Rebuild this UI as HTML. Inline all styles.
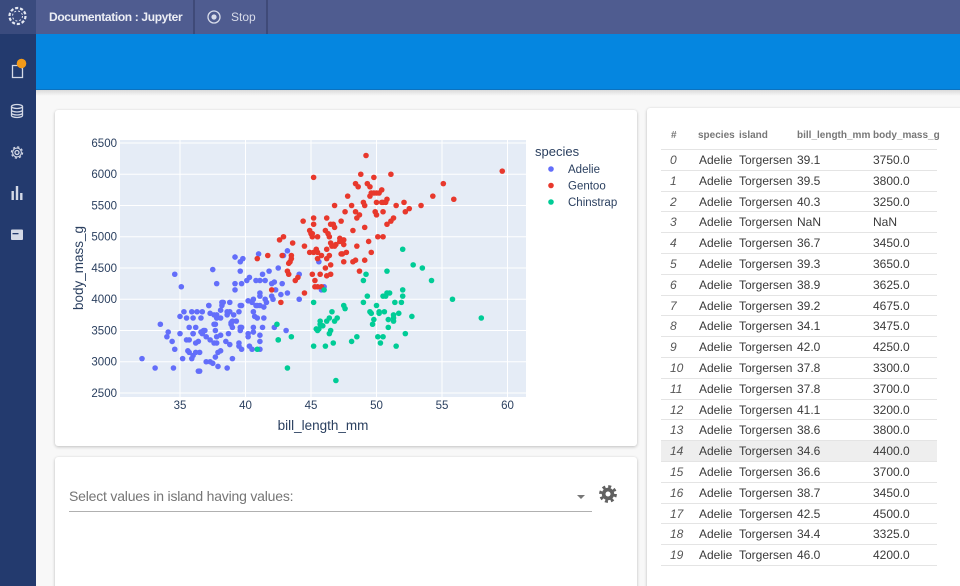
<!DOCTYPE html>
<html><head><meta charset="utf-8">
<style>
*{margin:0;padding:0;box-sizing:border-box}
html,body{width:960px;height:586px;overflow:hidden}
body{background:#f8f8f8;font-family:"Liberation Sans",Arial,sans-serif;position:relative}
.a{position:absolute}
.card{position:absolute;background:#fff;border-radius:3px;box-shadow:0 1px 3px rgba(0,0,0,.22),0 0 1px rgba(0,0,0,.08)}
.row{position:absolute;left:661px;width:276px;height:20.8px;border-bottom:1px solid #e4e4e4;font-size:12px;line-height:20px;color:#3a3a3a}
.row span{position:absolute;top:0;white-space:nowrap}
.row .i{left:9px;font-style:italic;color:#555}
.row .s{left:38px}
.row .l{left:78px}
.row .b{left:136px}
.row .m{left:212px}
.hd{position:absolute;left:661px;top:126px;width:276px;height:24px;border-bottom:1px solid #e4e4e4;font-size:10px;font-weight:bold;color:#777;line-height:20px}
.hd span{position:absolute;top:0;white-space:nowrap}
</style></head>
<body>
<!-- top bar -->
<div class="a" style="left:0;top:0;width:960px;height:34px;background:#4f5c90"></div>
<div class="a" style="left:0;top:0;width:36px;height:34px;background:#3a4b7e"></div>
<div class="a" style="left:0;top:34px;width:36px;height:552px;background:#233a6e"></div>
<div class="a" style="left:193px;top:0;width:2px;height:34px;background:#3f4a78"></div>
<div class="a" style="left:266px;top:0;width:2px;height:34px;background:#3f4a78"></div>
<div class="a" style="left:49px;top:10px;font-size:12px;font-weight:bold;color:#eceef5;letter-spacing:-0.35px;white-space:nowrap">Documentation : Jupyter</div>
<div class="a" style="left:231px;top:10px;font-size:12px;color:#d8dcea;white-space:nowrap">Stop</div>
<!-- blue band -->
<div class="a" style="left:36px;top:34px;width:924px;height:56px;background:#0586e0;border-bottom:1px solid #0b72bf"></div>
<div class="a" style="left:36px;top:90px;width:924px;height:6px;background:linear-gradient(rgba(0,0,0,.12),rgba(0,0,0,0))"></div>

<!-- cards -->
<div class="card" style="left:55px;top:110px;width:582px;height:336px"></div>
<div class="card" style="left:55px;top:457px;width:582px;height:150px"></div>
<div class="card" style="left:647px;top:108px;width:330px;height:500px"></div>

<!-- select -->
<div class="a" style="left:69px;top:488px;font-size:14px;color:#757575;white-space:nowrap;letter-spacing:-0.2px">Select values in island having values:</div>
<div class="a" style="left:69px;top:511px;width:523px;height:1px;background:#b0b0b0"></div>

<!-- table -->
<div class="hd"><span style="left:10px">#</span><span style="left:37px">species</span><span style="left:78px">island</span><span style="left:136px">bill_length_mm</span><span style="left:212px">body_mass_g</span></div>
<div class="row" style="top:150px"><span class="i">0</span><span class="s">Adelie</span><span class="l">Torgersen</span><span class="b">39.1</span><span class="m">3750.0</span></div>
<div class="row" style="top:170.8px"><span class="i">1</span><span class="s">Adelie</span><span class="l">Torgersen</span><span class="b">39.5</span><span class="m">3800.0</span></div>
<div class="row" style="top:191.6px"><span class="i">2</span><span class="s">Adelie</span><span class="l">Torgersen</span><span class="b">40.3</span><span class="m">3250.0</span></div>
<div class="row" style="top:212.4px"><span class="i">3</span><span class="s">Adelie</span><span class="l">Torgersen</span><span class="b">NaN</span><span class="m">NaN</span></div>
<div class="row" style="top:233.2px"><span class="i">4</span><span class="s">Adelie</span><span class="l">Torgersen</span><span class="b">36.7</span><span class="m">3450.0</span></div>
<div class="row" style="top:254px"><span class="i">5</span><span class="s">Adelie</span><span class="l">Torgersen</span><span class="b">39.3</span><span class="m">3650.0</span></div>
<div class="row" style="top:274.8px"><span class="i">6</span><span class="s">Adelie</span><span class="l">Torgersen</span><span class="b">38.9</span><span class="m">3625.0</span></div>
<div class="row" style="top:295.6px"><span class="i">7</span><span class="s">Adelie</span><span class="l">Torgersen</span><span class="b">39.2</span><span class="m">4675.0</span></div>
<div class="row" style="top:316.4px"><span class="i">8</span><span class="s">Adelie</span><span class="l">Torgersen</span><span class="b">34.1</span><span class="m">3475.0</span></div>
<div class="row" style="top:337.2px"><span class="i">9</span><span class="s">Adelie</span><span class="l">Torgersen</span><span class="b">42.0</span><span class="m">4250.0</span></div>
<div class="row" style="top:358px"><span class="i">10</span><span class="s">Adelie</span><span class="l">Torgersen</span><span class="b">37.8</span><span class="m">3300.0</span></div>
<div class="row" style="top:378.8px"><span class="i">11</span><span class="s">Adelie</span><span class="l">Torgersen</span><span class="b">37.8</span><span class="m">3700.0</span></div>
<div class="row" style="top:399.6px"><span class="i">12</span><span class="s">Adelie</span><span class="l">Torgersen</span><span class="b">41.1</span><span class="m">3200.0</span></div>
<div class="row" style="top:420.4px"><span class="i">13</span><span class="s">Adelie</span><span class="l">Torgersen</span><span class="b">38.6</span><span class="m">3800.0</span></div>
<div class="row" style="top:441.2px;background:#eeeeee"><span class="i">14</span><span class="s">Adelie</span><span class="l">Torgersen</span><span class="b">34.6</span><span class="m">4400.0</span></div>
<div class="row" style="top:462px"><span class="i">15</span><span class="s">Adelie</span><span class="l">Torgersen</span><span class="b">36.6</span><span class="m">3700.0</span></div>
<div class="row" style="top:482.8px"><span class="i">16</span><span class="s">Adelie</span><span class="l">Torgersen</span><span class="b">38.7</span><span class="m">3450.0</span></div>
<div class="row" style="top:503.6px"><span class="i">17</span><span class="s">Adelie</span><span class="l">Torgersen</span><span class="b">42.5</span><span class="m">4500.0</span></div>
<div class="row" style="top:524.4px"><span class="i">18</span><span class="s">Adelie</span><span class="l">Torgersen</span><span class="b">34.4</span><span class="m">3325.0</span></div>
<div class="row" style="top:545.2px"><span class="i">19</span><span class="s">Adelie</span><span class="l">Torgersen</span><span class="b">46.0</span><span class="m">4200.0</span></div>

<svg class="a" style="left:0;top:0" width="960" height="586" viewBox="0 0 960 586" xmlns="http://www.w3.org/2000/svg" font-family="Liberation Sans, Arial, sans-serif">
<!-- logo -->
<circle cx="17.5" cy="16" r="8" fill="none" stroke="#e4e8f2" stroke-width="2.2" stroke-dasharray="3.2 1.8"/>
<circle cx="17.5" cy="16" r="5" fill="none" stroke="#e4e8f2" stroke-width="1" stroke-dasharray="2 2"/>
<!-- stop icon -->
<circle cx="214" cy="17" r="6" fill="none" stroke="#d8dcea" stroke-width="1.3"/>
<circle cx="214" cy="17" r="2.6" fill="#d8dcea"/>
<!-- sidebar icons -->
<path d="M12.5 65.5 H19.5 L22.5 68.5 V77.5 H12.5 Z" fill="none" stroke="#d4d9e6" stroke-width="1.3"/>
<circle cx="21.5" cy="63.5" r="4.8" fill="#f29a1a"/>
<g fill="none" stroke="#d4d9e6" stroke-width="1.3">
<ellipse cx="17" cy="106.5" rx="5.5" ry="2"/>
<path d="M11.5 106.5 V115.5 A5.5 2 0 0 0 22.5 115.5 V106.5 M11.5 110 A5.5 2 0 0 0 22.5 110 M11.5 113 A5.5 2 0 0 0 22.5 113"/>
<circle cx="17" cy="152.5" r="2"/>
<circle cx="17" cy="152.5" r="5.6" stroke-width="1.2" stroke-dasharray="2.2 2.2"/>
<circle cx="17" cy="152.5" r="4.4" stroke-width="1.1"/>
</g>
<g fill="#d4d9e6">
<rect x="11.5" y="191" width="2.4" height="9"/>
<rect x="15.8" y="186" width="2.4" height="14"/>
<rect x="20.1" y="193" width="2.4" height="7"/>
<rect x="11" y="229.5" width="12" height="10.5" rx="1"/>
</g>
<rect x="12.5" y="233" width="6" height="1.3" fill="#233a6e"/>
<!-- gear in select card -->
<circle cx="608" cy="494" r="7.3" fill="none" stroke="#616161" stroke-width="3.2" stroke-dasharray="2.9 2.83"/>
<circle cx="608" cy="494" r="6.2" fill="#616161"/>
<circle cx="608" cy="494" r="2.5" fill="#fff"/>
<path d="M577 495 H585 L581 499 Z" fill="#777"/>

<!-- plot -->
<rect x="120" y="140" width="406" height="257" fill="#e5ecf6"/>
<g stroke="#fff" stroke-width="1">
<line x1="180" y1="140" x2="180" y2="397"/><line x1="245.5" y1="140" x2="245.5" y2="397"/><line x1="311" y1="140" x2="311" y2="397"/><line x1="376.5" y1="140" x2="376.5" y2="397"/><line x1="442" y1="140" x2="442" y2="397"/><line x1="507.5" y1="140" x2="507.5" y2="397"/>
<line x1="120" y1="143" x2="526" y2="143"/><line x1="120" y1="174.25" x2="526" y2="174.25"/><line x1="120" y1="205.5" x2="526" y2="205.5"/><line x1="120" y1="236.75" x2="526" y2="236.75"/><line x1="120" y1="268" x2="526" y2="268"/><line x1="120" y1="299.25" x2="526" y2="299.25"/><line x1="120" y1="330.5" x2="526" y2="330.5"/><line x1="120" y1="361.75" x2="526" y2="361.75"/><line x1="120" y1="393" x2="526" y2="393"/>
</g>
<g font-size="11.5" fill="#2a3f5f" text-anchor="end">
<text x="117" y="147">6500</text><text x="117" y="178.2">6000</text><text x="117" y="209.5">5500</text><text x="117" y="240.7">5000</text><text x="117" y="272">4500</text><text x="117" y="303.2">4000</text><text x="117" y="334.5">3500</text><text x="117" y="365.7">3000</text><text x="117" y="397">2500</text>
</g>
<g font-size="11.5" fill="#2a3f5f" text-anchor="middle">
<text x="180" y="409">35</text><text x="245.5" y="409">40</text><text x="311" y="409">45</text><text x="376.5" y="409">50</text><text x="442" y="409">55</text><text x="507.5" y="409">60</text>
<text x="323" y="430" font-size="13.5">bill_length_mm</text>
<text transform="translate(83 268) rotate(-90)" font-size="13.5">body_mass_g</text>
</g>
<!-- legend -->
<text x="535" y="156" font-size="13" fill="#2a3f5f">species</text>
<circle cx="551" cy="169" r="2.8" fill="#636efa"/><text x="568" y="173" font-size="11.5" fill="#2a3f5f">Adelie</text>
<circle cx="551" cy="185.5" r="2.8" fill="#e8382c"/><text x="568" y="189.5" font-size="11.5" fill="#2a3f5f">Gentoo</text>
<circle cx="551" cy="202" r="2.8" fill="#00cc96"/><text x="568" y="206" font-size="11.5" fill="#2a3f5f">Chinstrap</text>

<g transform="matrix(13.1 0 0 -0.0625 -278.5 549.25)">
<g fill="#636efa">
<ellipse cx="39.1" cy="3750" rx=".214" ry="44.8"/><ellipse cx="39.5" cy="3800" rx=".214" ry="44.8"/><ellipse cx="40.3" cy="3250" rx=".214" ry="44.8"/><ellipse cx="36.7" cy="3450" rx=".214" ry="44.8"/><ellipse cx="39.3" cy="3650" rx=".214" ry="44.8"/><ellipse cx="38.9" cy="3625" rx=".214" ry="44.8"/><ellipse cx="39.2" cy="4675" rx=".214" ry="44.8"/><ellipse cx="34.1" cy="3475" rx=".214" ry="44.8"/><ellipse cx="42.0" cy="4250" rx=".214" ry="44.8"/><ellipse cx="37.8" cy="3300" rx=".214" ry="44.8"/>
<ellipse cx="37.8" cy="3700" rx=".214" ry="44.8"/><ellipse cx="41.1" cy="3200" rx=".214" ry="44.8"/><ellipse cx="38.6" cy="3800" rx=".214" ry="44.8"/><ellipse cx="34.6" cy="4400" rx=".214" ry="44.8"/><ellipse cx="36.6" cy="3700" rx=".214" ry="44.8"/><ellipse cx="38.7" cy="3450" rx=".214" ry="44.8"/><ellipse cx="42.5" cy="4500" rx=".214" ry="44.8"/><ellipse cx="34.4" cy="3325" rx=".214" ry="44.8"/><ellipse cx="46.0" cy="4200" rx=".214" ry="44.8"/><ellipse cx="37.8" cy="3400" rx=".214" ry="44.8"/>
<ellipse cx="37.7" cy="3600" rx=".214" ry="44.8"/><ellipse cx="35.9" cy="3800" rx=".214" ry="44.8"/><ellipse cx="38.2" cy="3950" rx=".214" ry="44.8"/><ellipse cx="38.8" cy="3800" rx=".214" ry="44.8"/><ellipse cx="35.3" cy="3800" rx=".214" ry="44.8"/><ellipse cx="40.6" cy="3550" rx=".214" ry="44.8"/><ellipse cx="40.5" cy="3200" rx=".214" ry="44.8"/><ellipse cx="37.9" cy="3150" rx=".214" ry="44.8"/><ellipse cx="40.5" cy="3950" rx=".214" ry="44.8"/><ellipse cx="39.5" cy="3250" rx=".214" ry="44.8"/>
<ellipse cx="37.2" cy="3900" rx=".214" ry="44.8"/><ellipse cx="39.5" cy="3300" rx=".214" ry="44.8"/><ellipse cx="40.9" cy="3900" rx=".214" ry="44.8"/><ellipse cx="36.4" cy="3325" rx=".214" ry="44.8"/><ellipse cx="39.2" cy="4150" rx=".214" ry="44.8"/><ellipse cx="38.8" cy="3950" rx=".214" ry="44.8"/><ellipse cx="42.2" cy="3550" rx=".214" ry="44.8"/><ellipse cx="37.6" cy="3300" rx=".214" ry="44.8"/><ellipse cx="39.8" cy="4650" rx=".214" ry="44.8"/><ellipse cx="36.5" cy="3150" rx=".214" ry="44.8"/>
<ellipse cx="40.8" cy="3900" rx=".214" ry="44.8"/><ellipse cx="36.0" cy="3100" rx=".214" ry="44.8"/><ellipse cx="44.1" cy="4400" rx=".214" ry="44.8"/><ellipse cx="37.0" cy="3000" rx=".214" ry="44.8"/><ellipse cx="39.6" cy="4600" rx=".214" ry="44.8"/><ellipse cx="41.1" cy="3425" rx=".214" ry="44.8"/><ellipse cx="37.5" cy="2975" rx=".214" ry="44.8"/><ellipse cx="36.0" cy="3450" rx=".214" ry="44.8"/><ellipse cx="42.3" cy="4150" rx=".214" ry="44.8"/><ellipse cx="39.6" cy="3500" rx=".214" ry="44.8"/>
<ellipse cx="40.1" cy="4300" rx=".214" ry="44.8"/><ellipse cx="35.0" cy="3450" rx=".214" ry="44.8"/><ellipse cx="42.0" cy="4050" rx=".214" ry="44.8"/><ellipse cx="34.5" cy="2900" rx=".214" ry="44.8"/><ellipse cx="41.4" cy="3700" rx=".214" ry="44.8"/><ellipse cx="39.0" cy="3550" rx=".214" ry="44.8"/><ellipse cx="40.6" cy="3800" rx=".214" ry="44.8"/><ellipse cx="36.5" cy="2850" rx=".214" ry="44.8"/><ellipse cx="37.6" cy="3750" rx=".214" ry="44.8"/><ellipse cx="35.7" cy="3150" rx=".214" ry="44.8"/>
<ellipse cx="41.3" cy="4400" rx=".214" ry="44.8"/><ellipse cx="37.6" cy="3600" rx=".214" ry="44.8"/><ellipse cx="41.1" cy="4050" rx=".214" ry="44.8"/><ellipse cx="36.4" cy="2850" rx=".214" ry="44.8"/><ellipse cx="41.6" cy="3950" rx=".214" ry="44.8"/><ellipse cx="35.5" cy="3350" rx=".214" ry="44.8"/><ellipse cx="41.1" cy="4100" rx=".214" ry="44.8"/><ellipse cx="35.9" cy="3050" rx=".214" ry="44.8"/><ellipse cx="41.8" cy="4450" rx=".214" ry="44.8"/><ellipse cx="33.5" cy="3600" rx=".214" ry="44.8"/>
<ellipse cx="39.7" cy="3900" rx=".214" ry="44.8"/><ellipse cx="39.6" cy="3550" rx=".214" ry="44.8"/><ellipse cx="45.8" cy="4150" rx=".214" ry="44.8"/><ellipse cx="35.5" cy="3700" rx=".214" ry="44.8"/><ellipse cx="42.8" cy="4250" rx=".214" ry="44.8"/><ellipse cx="40.9" cy="3700" rx=".214" ry="44.8"/><ellipse cx="37.2" cy="3900" rx=".214" ry="44.8"/><ellipse cx="36.2" cy="3550" rx=".214" ry="44.8"/><ellipse cx="42.1" cy="4000" rx=".214" ry="44.8"/><ellipse cx="34.6" cy="3200" rx=".214" ry="44.8"/>
<ellipse cx="42.9" cy="4700" rx=".214" ry="44.8"/><ellipse cx="36.7" cy="3800" rx=".214" ry="44.8"/><ellipse cx="35.1" cy="4200" rx=".214" ry="44.8"/><ellipse cx="37.3" cy="3350" rx=".214" ry="44.8"/><ellipse cx="41.3" cy="3550" rx=".214" ry="44.8"/><ellipse cx="36.3" cy="3800" rx=".214" ry="44.8"/><ellipse cx="36.9" cy="3500" rx=".214" ry="44.8"/><ellipse cx="38.3" cy="3950" rx=".214" ry="44.8"/><ellipse cx="38.9" cy="3600" rx=".214" ry="44.8"/><ellipse cx="35.7" cy="3550" rx=".214" ry="44.8"/>
<ellipse cx="41.1" cy="4300" rx=".214" ry="44.8"/><ellipse cx="34.0" cy="3400" rx=".214" ry="44.8"/><ellipse cx="39.6" cy="4450" rx=".214" ry="44.8"/><ellipse cx="36.2" cy="3300" rx=".214" ry="44.8"/><ellipse cx="40.8" cy="4300" rx=".214" ry="44.8"/><ellipse cx="38.1" cy="3700" rx=".214" ry="44.8"/><ellipse cx="40.3" cy="4350" rx=".214" ry="44.8"/><ellipse cx="33.1" cy="2900" rx=".214" ry="44.8"/><ellipse cx="43.2" cy="4100" rx=".214" ry="44.8"/><ellipse cx="35.0" cy="3725" rx=".214" ry="44.8"/>
<ellipse cx="41.0" cy="4725" rx=".214" ry="44.8"/><ellipse cx="37.7" cy="3075" rx=".214" ry="44.8"/><ellipse cx="37.8" cy="4250" rx=".214" ry="44.8"/><ellipse cx="37.9" cy="2925" rx=".214" ry="44.8"/><ellipse cx="39.7" cy="3550" rx=".214" ry="44.8"/><ellipse cx="38.6" cy="3750" rx=".214" ry="44.8"/><ellipse cx="38.2" cy="3900" rx=".214" ry="44.8"/><ellipse cx="38.1" cy="3175" rx=".214" ry="44.8"/><ellipse cx="43.2" cy="4775" rx=".214" ry="44.8"/><ellipse cx="38.1" cy="3825" rx=".214" ry="44.8"/>
<ellipse cx="45.6" cy="4600" rx=".214" ry="44.8"/><ellipse cx="39.7" cy="3200" rx=".214" ry="44.8"/><ellipse cx="42.2" cy="4275" rx=".214" ry="44.8"/><ellipse cx="39.6" cy="3900" rx=".214" ry="44.8"/><ellipse cx="42.7" cy="4075" rx=".214" ry="44.8"/><ellipse cx="38.6" cy="2900" rx=".214" ry="44.8"/><ellipse cx="37.3" cy="3775" rx=".214" ry="44.8"/><ellipse cx="35.7" cy="3350" rx=".214" ry="44.8"/><ellipse cx="41.1" cy="3325" rx=".214" ry="44.8"/><ellipse cx="36.2" cy="3150" rx=".214" ry="44.8"/>
<ellipse cx="37.7" cy="3500" rx=".214" ry="44.8"/><ellipse cx="40.2" cy="3450" rx=".214" ry="44.8"/><ellipse cx="41.4" cy="3875" rx=".214" ry="44.8"/><ellipse cx="35.2" cy="3050" rx=".214" ry="44.8"/><ellipse cx="40.6" cy="4000" rx=".214" ry="44.8"/><ellipse cx="38.8" cy="3275" rx=".214" ry="44.8"/><ellipse cx="41.5" cy="4300" rx=".214" ry="44.8"/><ellipse cx="39.0" cy="3050" rx=".214" ry="44.8"/><ellipse cx="44.1" cy="4000" rx=".214" ry="44.8"/><ellipse cx="38.5" cy="3325" rx=".214" ry="44.8"/>
<ellipse cx="43.1" cy="3500" rx=".214" ry="44.8"/><ellipse cx="36.8" cy="3500" rx=".214" ry="44.8"/><ellipse cx="37.5" cy="4475" rx=".214" ry="44.8"/><ellipse cx="38.1" cy="3425" rx=".214" ry="44.8"/><ellipse cx="41.1" cy="3900" rx=".214" ry="44.8"/><ellipse cx="35.6" cy="3175" rx=".214" ry="44.8"/><ellipse cx="40.2" cy="3975" rx=".214" ry="44.8"/><ellipse cx="37.0" cy="3400" rx=".214" ry="44.8"/><ellipse cx="39.7" cy="4250" rx=".214" ry="44.8"/><ellipse cx="40.2" cy="3400" rx=".214" ry="44.8"/>
<ellipse cx="40.6" cy="3475" rx=".214" ry="44.8"/><ellipse cx="32.1" cy="3050" rx=".214" ry="44.8"/><ellipse cx="40.7" cy="3725" rx=".214" ry="44.8"/><ellipse cx="37.3" cy="3000" rx=".214" ry="44.8"/><ellipse cx="39.0" cy="3650" rx=".214" ry="44.8"/><ellipse cx="39.2" cy="4250" rx=".214" ry="44.8"/><ellipse cx="36.6" cy="3475" rx=".214" ry="44.8"/><ellipse cx="36.0" cy="3450" rx=".214" ry="44.8"/><ellipse cx="37.8" cy="3750" rx=".214" ry="44.8"/><ellipse cx="36.0" cy="3700" rx=".214" ry="44.8"/>
<ellipse cx="41.5" cy="4000" rx=".214" ry="44.8"/>
</g>
<g fill="#e8382c">
<ellipse cx="46.1" cy="4500" rx=".214" ry="44.8"/><ellipse cx="50.0" cy="5700" rx=".214" ry="44.8"/><ellipse cx="48.7" cy="4450" rx=".214" ry="44.8"/><ellipse cx="47.6" cy="5400" rx=".214" ry="44.8"/><ellipse cx="46.5" cy="4550" rx=".214" ry="44.8"/><ellipse cx="45.4" cy="4800" rx=".214" ry="44.8"/><ellipse cx="46.7" cy="5200" rx=".214" ry="44.8"/><ellipse cx="43.3" cy="4400" rx=".214" ry="44.8"/><ellipse cx="46.8" cy="5150" rx=".214" ry="44.8"/><ellipse cx="40.9" cy="4650" rx=".214" ry="44.8"/>
<ellipse cx="49.0" cy="5550" rx=".214" ry="44.8"/><ellipse cx="45.5" cy="4650" rx=".214" ry="44.8"/><ellipse cx="48.4" cy="5850" rx=".214" ry="44.8"/><ellipse cx="45.8" cy="4200" rx=".214" ry="44.8"/><ellipse cx="49.3" cy="5850" rx=".214" ry="44.8"/><ellipse cx="42.0" cy="4150" rx=".214" ry="44.8"/><ellipse cx="49.2" cy="6300" rx=".214" ry="44.8"/><ellipse cx="46.2" cy="4800" rx=".214" ry="44.8"/><ellipse cx="48.7" cy="5350" rx=".214" ry="44.8"/><ellipse cx="50.2" cy="5700" rx=".214" ry="44.8"/>
<ellipse cx="45.1" cy="5000" rx=".214" ry="44.8"/><ellipse cx="46.5" cy="4400" rx=".214" ry="44.8"/><ellipse cx="46.3" cy="5050" rx=".214" ry="44.8"/><ellipse cx="42.9" cy="5000" rx=".214" ry="44.8"/><ellipse cx="46.1" cy="5100" rx=".214" ry="44.8"/><ellipse cx="44.5" cy="4100" rx=".214" ry="44.8"/><ellipse cx="47.8" cy="5650" rx=".214" ry="44.8"/><ellipse cx="48.2" cy="4600" rx=".214" ry="44.8"/><ellipse cx="50.0" cy="5550" rx=".214" ry="44.8"/><ellipse cx="47.3" cy="5250" rx=".214" ry="44.8"/>
<ellipse cx="42.8" cy="4700" rx=".214" ry="44.8"/><ellipse cx="45.1" cy="5050" rx=".214" ry="44.8"/><ellipse cx="59.6" cy="6050" rx=".214" ry="44.8"/><ellipse cx="49.1" cy="5150" rx=".214" ry="44.8"/><ellipse cx="48.4" cy="5400" rx=".214" ry="44.8"/><ellipse cx="42.6" cy="4950" rx=".214" ry="44.8"/><ellipse cx="44.4" cy="5250" rx=".214" ry="44.8"/><ellipse cx="44.0" cy="4350" rx=".214" ry="44.8"/><ellipse cx="42.7" cy="3950" rx=".214" ry="44.8"/><ellipse cx="49.6" cy="5700" rx=".214" ry="44.8"/>
<ellipse cx="45.3" cy="4300" rx=".214" ry="44.8"/><ellipse cx="49.6" cy="4750" rx=".214" ry="44.8"/><ellipse cx="50.5" cy="5550" rx=".214" ry="44.8"/><ellipse cx="43.6" cy="4900" rx=".214" ry="44.8"/><ellipse cx="45.5" cy="4200" rx=".214" ry="44.8"/><ellipse cx="50.5" cy="5400" rx=".214" ry="44.8"/><ellipse cx="44.9" cy="5100" rx=".214" ry="44.8"/><ellipse cx="45.2" cy="5300" rx=".214" ry="44.8"/><ellipse cx="46.6" cy="4850" rx=".214" ry="44.8"/><ellipse cx="48.5" cy="5300" rx=".214" ry="44.8"/>
<ellipse cx="45.1" cy="4400" rx=".214" ry="44.8"/><ellipse cx="50.1" cy="5000" rx=".214" ry="44.8"/><ellipse cx="46.5" cy="4900" rx=".214" ry="44.8"/><ellipse cx="45.0" cy="5050" rx=".214" ry="44.8"/><ellipse cx="43.8" cy="4300" rx=".214" ry="44.8"/><ellipse cx="45.5" cy="5000" rx=".214" ry="44.8"/><ellipse cx="43.2" cy="4450" rx=".214" ry="44.8"/><ellipse cx="50.4" cy="5550" rx=".214" ry="44.8"/><ellipse cx="45.3" cy="4200" rx=".214" ry="44.8"/><ellipse cx="46.2" cy="5300" rx=".214" ry="44.8"/>
<ellipse cx="45.7" cy="4400" rx=".214" ry="44.8"/><ellipse cx="54.3" cy="5650" rx=".214" ry="44.8"/><ellipse cx="45.8" cy="4700" rx=".214" ry="44.8"/><ellipse cx="49.8" cy="5700" rx=".214" ry="44.8"/><ellipse cx="46.2" cy="4650" rx=".214" ry="44.8"/><ellipse cx="49.5" cy="5800" rx=".214" ry="44.8"/><ellipse cx="43.5" cy="4700" rx=".214" ry="44.8"/><ellipse cx="50.7" cy="5550" rx=".214" ry="44.8"/><ellipse cx="47.7" cy="4750" rx=".214" ry="44.8"/><ellipse cx="46.4" cy="5000" rx=".214" ry="44.8"/>
<ellipse cx="48.2" cy="5100" rx=".214" ry="44.8"/><ellipse cx="46.5" cy="5200" rx=".214" ry="44.8"/><ellipse cx="46.4" cy="4700" rx=".214" ry="44.8"/><ellipse cx="48.6" cy="5800" rx=".214" ry="44.8"/><ellipse cx="47.5" cy="4600" rx=".214" ry="44.8"/><ellipse cx="51.1" cy="6000" rx=".214" ry="44.8"/><ellipse cx="45.2" cy="4750" rx=".214" ry="44.8"/><ellipse cx="45.2" cy="5950" rx=".214" ry="44.8"/><ellipse cx="49.1" cy="4625" rx=".214" ry="44.8"/><ellipse cx="52.5" cy="5450" rx=".214" ry="44.8"/>
<ellipse cx="47.4" cy="4725" rx=".214" ry="44.8"/><ellipse cx="50.0" cy="5350" rx=".214" ry="44.8"/><ellipse cx="44.9" cy="4750" rx=".214" ry="44.8"/><ellipse cx="50.8" cy="5600" rx=".214" ry="44.8"/><ellipse cx="43.4" cy="4600" rx=".214" ry="44.8"/><ellipse cx="51.3" cy="5300" rx=".214" ry="44.8"/><ellipse cx="47.5" cy="4875" rx=".214" ry="44.8"/><ellipse cx="52.1" cy="5550" rx=".214" ry="44.8"/><ellipse cx="47.5" cy="4950" rx=".214" ry="44.8"/><ellipse cx="52.2" cy="5400" rx=".214" ry="44.8"/>
<ellipse cx="45.5" cy="4750" rx=".214" ry="44.8"/><ellipse cx="49.5" cy="5650" rx=".214" ry="44.8"/><ellipse cx="44.5" cy="4850" rx=".214" ry="44.8"/><ellipse cx="50.8" cy="5200" rx=".214" ry="44.8"/><ellipse cx="49.4" cy="4925" rx=".214" ry="44.8"/><ellipse cx="46.9" cy="4875" rx=".214" ry="44.8"/><ellipse cx="48.4" cy="4625" rx=".214" ry="44.8"/><ellipse cx="51.1" cy="5250" rx=".214" ry="44.8"/><ellipse cx="48.5" cy="4850" rx=".214" ry="44.8"/><ellipse cx="55.9" cy="5600" rx=".214" ry="44.8"/>
<ellipse cx="47.2" cy="4975" rx=".214" ry="44.8"/><ellipse cx="49.1" cy="5500" rx=".214" ry="44.8"/><ellipse cx="47.3" cy="4725" rx=".214" ry="44.8"/><ellipse cx="46.8" cy="5500" rx=".214" ry="44.8"/><ellipse cx="41.7" cy="4700" rx=".214" ry="44.8"/><ellipse cx="53.4" cy="5500" rx=".214" ry="44.8"/><ellipse cx="43.3" cy="4575" rx=".214" ry="44.8"/><ellipse cx="48.1" cy="5500" rx=".214" ry="44.8"/><ellipse cx="50.5" cy="5000" rx=".214" ry="44.8"/><ellipse cx="49.8" cy="5950" rx=".214" ry="44.8"/>
<ellipse cx="43.5" cy="4650" rx=".214" ry="44.8"/><ellipse cx="51.5" cy="5500" rx=".214" ry="44.8"/><ellipse cx="46.2" cy="4375" rx=".214" ry="44.8"/><ellipse cx="55.1" cy="5850" rx=".214" ry="44.8"/><ellipse cx="48.8" cy="6000" rx=".214" ry="44.8"/><ellipse cx="47.2" cy="4925" rx=".214" ry="44.8"/><ellipse cx="46.8" cy="4850" rx=".214" ry="44.8"/><ellipse cx="50.4" cy="5750" rx=".214" ry="44.8"/><ellipse cx="45.2" cy="5200" rx=".214" ry="44.8"/><ellipse cx="49.9" cy="5400" rx=".214" ry="44.8"/>
</g>
<g fill="#00cc96">
<ellipse cx="46.5" cy="3500" rx=".214" ry="44.8"/><ellipse cx="50.0" cy="3900" rx=".214" ry="44.8"/><ellipse cx="51.3" cy="3650" rx=".214" ry="44.8"/><ellipse cx="45.4" cy="3525" rx=".214" ry="44.8"/><ellipse cx="52.7" cy="3725" rx=".214" ry="44.8"/><ellipse cx="45.2" cy="3950" rx=".214" ry="44.8"/><ellipse cx="46.1" cy="3250" rx=".214" ry="44.8"/><ellipse cx="51.3" cy="3750" rx=".214" ry="44.8"/><ellipse cx="46.0" cy="4150" rx=".214" ry="44.8"/><ellipse cx="51.3" cy="3700" rx=".214" ry="44.8"/>
<ellipse cx="46.6" cy="3800" rx=".214" ry="44.8"/><ellipse cx="51.7" cy="3775" rx=".214" ry="44.8"/><ellipse cx="47.0" cy="3700" rx=".214" ry="44.8"/><ellipse cx="52.0" cy="4050" rx=".214" ry="44.8"/><ellipse cx="45.9" cy="3575" rx=".214" ry="44.8"/><ellipse cx="50.5" cy="4050" rx=".214" ry="44.8"/><ellipse cx="50.3" cy="3300" rx=".214" ry="44.8"/><ellipse cx="58.0" cy="3700" rx=".214" ry="44.8"/><ellipse cx="46.4" cy="3450" rx=".214" ry="44.8"/><ellipse cx="49.2" cy="4400" rx=".214" ry="44.8"/>
<ellipse cx="42.4" cy="3600" rx=".214" ry="44.8"/><ellipse cx="48.5" cy="3400" rx=".214" ry="44.8"/><ellipse cx="43.2" cy="2900" rx=".214" ry="44.8"/><ellipse cx="50.6" cy="3800" rx=".214" ry="44.8"/><ellipse cx="46.7" cy="3300" rx=".214" ry="44.8"/><ellipse cx="52.0" cy="4150" rx=".214" ry="44.8"/><ellipse cx="50.5" cy="3400" rx=".214" ry="44.8"/><ellipse cx="49.5" cy="3800" rx=".214" ry="44.8"/><ellipse cx="46.4" cy="3700" rx=".214" ry="44.8"/><ellipse cx="52.8" cy="4550" rx=".214" ry="44.8"/>
<ellipse cx="40.9" cy="3200" rx=".214" ry="44.8"/><ellipse cx="54.2" cy="4300" rx=".214" ry="44.8"/><ellipse cx="42.5" cy="3350" rx=".214" ry="44.8"/><ellipse cx="51.0" cy="4100" rx=".214" ry="44.8"/><ellipse cx="49.7" cy="3600" rx=".214" ry="44.8"/><ellipse cx="47.5" cy="3900" rx=".214" ry="44.8"/><ellipse cx="47.6" cy="3850" rx=".214" ry="44.8"/><ellipse cx="52.0" cy="4800" rx=".214" ry="44.8"/><ellipse cx="46.9" cy="2700" rx=".214" ry="44.8"/><ellipse cx="53.5" cy="4500" rx=".214" ry="44.8"/>
<ellipse cx="49.0" cy="3950" rx=".214" ry="44.8"/><ellipse cx="46.2" cy="3650" rx=".214" ry="44.8"/><ellipse cx="50.9" cy="3550" rx=".214" ry="44.8"/><ellipse cx="45.5" cy="3500" rx=".214" ry="44.8"/><ellipse cx="50.9" cy="3675" rx=".214" ry="44.8"/><ellipse cx="50.8" cy="4450" rx=".214" ry="44.8"/><ellipse cx="50.1" cy="3400" rx=".214" ry="44.8"/><ellipse cx="49.0" cy="4300" rx=".214" ry="44.8"/><ellipse cx="51.5" cy="3250" rx=".214" ry="44.8"/><ellipse cx="49.8" cy="3675" rx=".214" ry="44.8"/>
<ellipse cx="48.1" cy="3325" rx=".214" ry="44.8"/><ellipse cx="51.4" cy="3950" rx=".214" ry="44.8"/><ellipse cx="45.7" cy="3600" rx=".214" ry="44.8"/><ellipse cx="50.7" cy="4050" rx=".214" ry="44.8"/><ellipse cx="42.5" cy="3350" rx=".214" ry="44.8"/><ellipse cx="52.2" cy="3450" rx=".214" ry="44.8"/><ellipse cx="45.2" cy="3250" rx=".214" ry="44.8"/><ellipse cx="49.3" cy="4050" rx=".214" ry="44.8"/><ellipse cx="50.2" cy="3800" rx=".214" ry="44.8"/><ellipse cx="45.6" cy="3525" rx=".214" ry="44.8"/>
<ellipse cx="51.9" cy="3950" rx=".214" ry="44.8"/><ellipse cx="46.8" cy="3650" rx=".214" ry="44.8"/><ellipse cx="45.7" cy="3650" rx=".214" ry="44.8"/><ellipse cx="55.8" cy="4000" rx=".214" ry="44.8"/><ellipse cx="43.5" cy="3400" rx=".214" ry="44.8"/><ellipse cx="49.6" cy="3775" rx=".214" ry="44.8"/><ellipse cx="50.8" cy="4100" rx=".214" ry="44.8"/><ellipse cx="50.2" cy="3775" rx=".214" ry="44.8"/>
</g>
</g>
</svg>
</body></html>
